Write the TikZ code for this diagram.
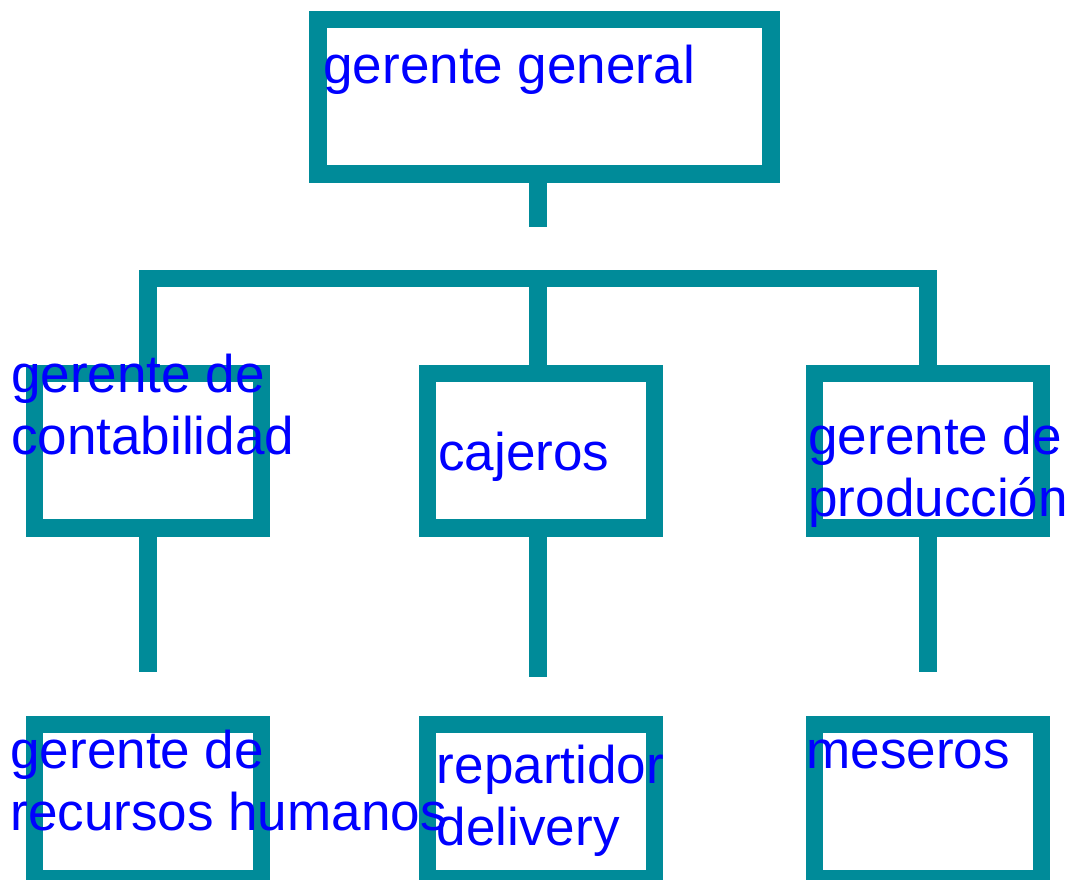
\documentclass[tikz,border=0pt]{standalone}
\usepackage{fontspec}
\setmainfont{Liberation Sans}
\definecolor{verdeazul}{RGB}{0,139,153}

\begin{document}
\begin{tikzpicture}[x=0.02cm,y=-0.02cm,
    caja/.style={draw=verdeazul,line width=0.35cm,inner sep=0,minimum width=4.54cm,minimum height=3.09cm},
    linea/.style={verdeazul,line width=0.35cm},
    txt/.style={blue,anchor=base west,inner sep=0,align=left,font=\fontsize{30.2}{35.2}\selectfont}]
    \useasboundingbox (0,0) rectangle (1071,879);
    % cajas
    \node[caja,minimum width=9.06cm] (gg) at (544.5,96.9) {};
    \foreach \x/\s/\a/\b/\y in {148.1/148.1/gc/rh/671.7, 540.9/538/caj/rep/677.3, 927.9/927.9/gp/mes/671.7}{
        \node[caja] (\a) at (\x,450.7) {};
        \node[caja] (\b) at (\x,801.5) {};
        \coordinate (s\a) at (\s,\y);
        \draw[linea] (\a.south -| s\a) -- (s\a);
    }
    % lineas
    \coordinate (sgg) at (538,227.3);
    \coordinate (barra) at (538,278.7);
    \draw[linea] (gg.south -| sgg) -- (sgg);
    \draw[linea] (gc.north) |- (barra) -| (gp.north);
    \draw[linea] (barra) -- (barra |- caj.north);
    % textos (base = ultima linea)
    \node[txt] (tgg) at (323,83.3) {gerente general};
    \node[txt] (tgc) at (10.7,454.6) {gerente de\\contabilidad};
    \node[txt] (tcaj) at (438,470) {cajeros};
    \node[txt] (tgp) at (808,516.7) {gerente de\\producción};
    \node[txt] (trh) at (10,830.7) {gerente de\\recursos humanos};
    \node[txt] (trep) at (436.5,845) {repartidor\\delivery};
    \node[txt] (tmes) at (806,768.3) {meseros};
\end{tikzpicture}
\end{document}
